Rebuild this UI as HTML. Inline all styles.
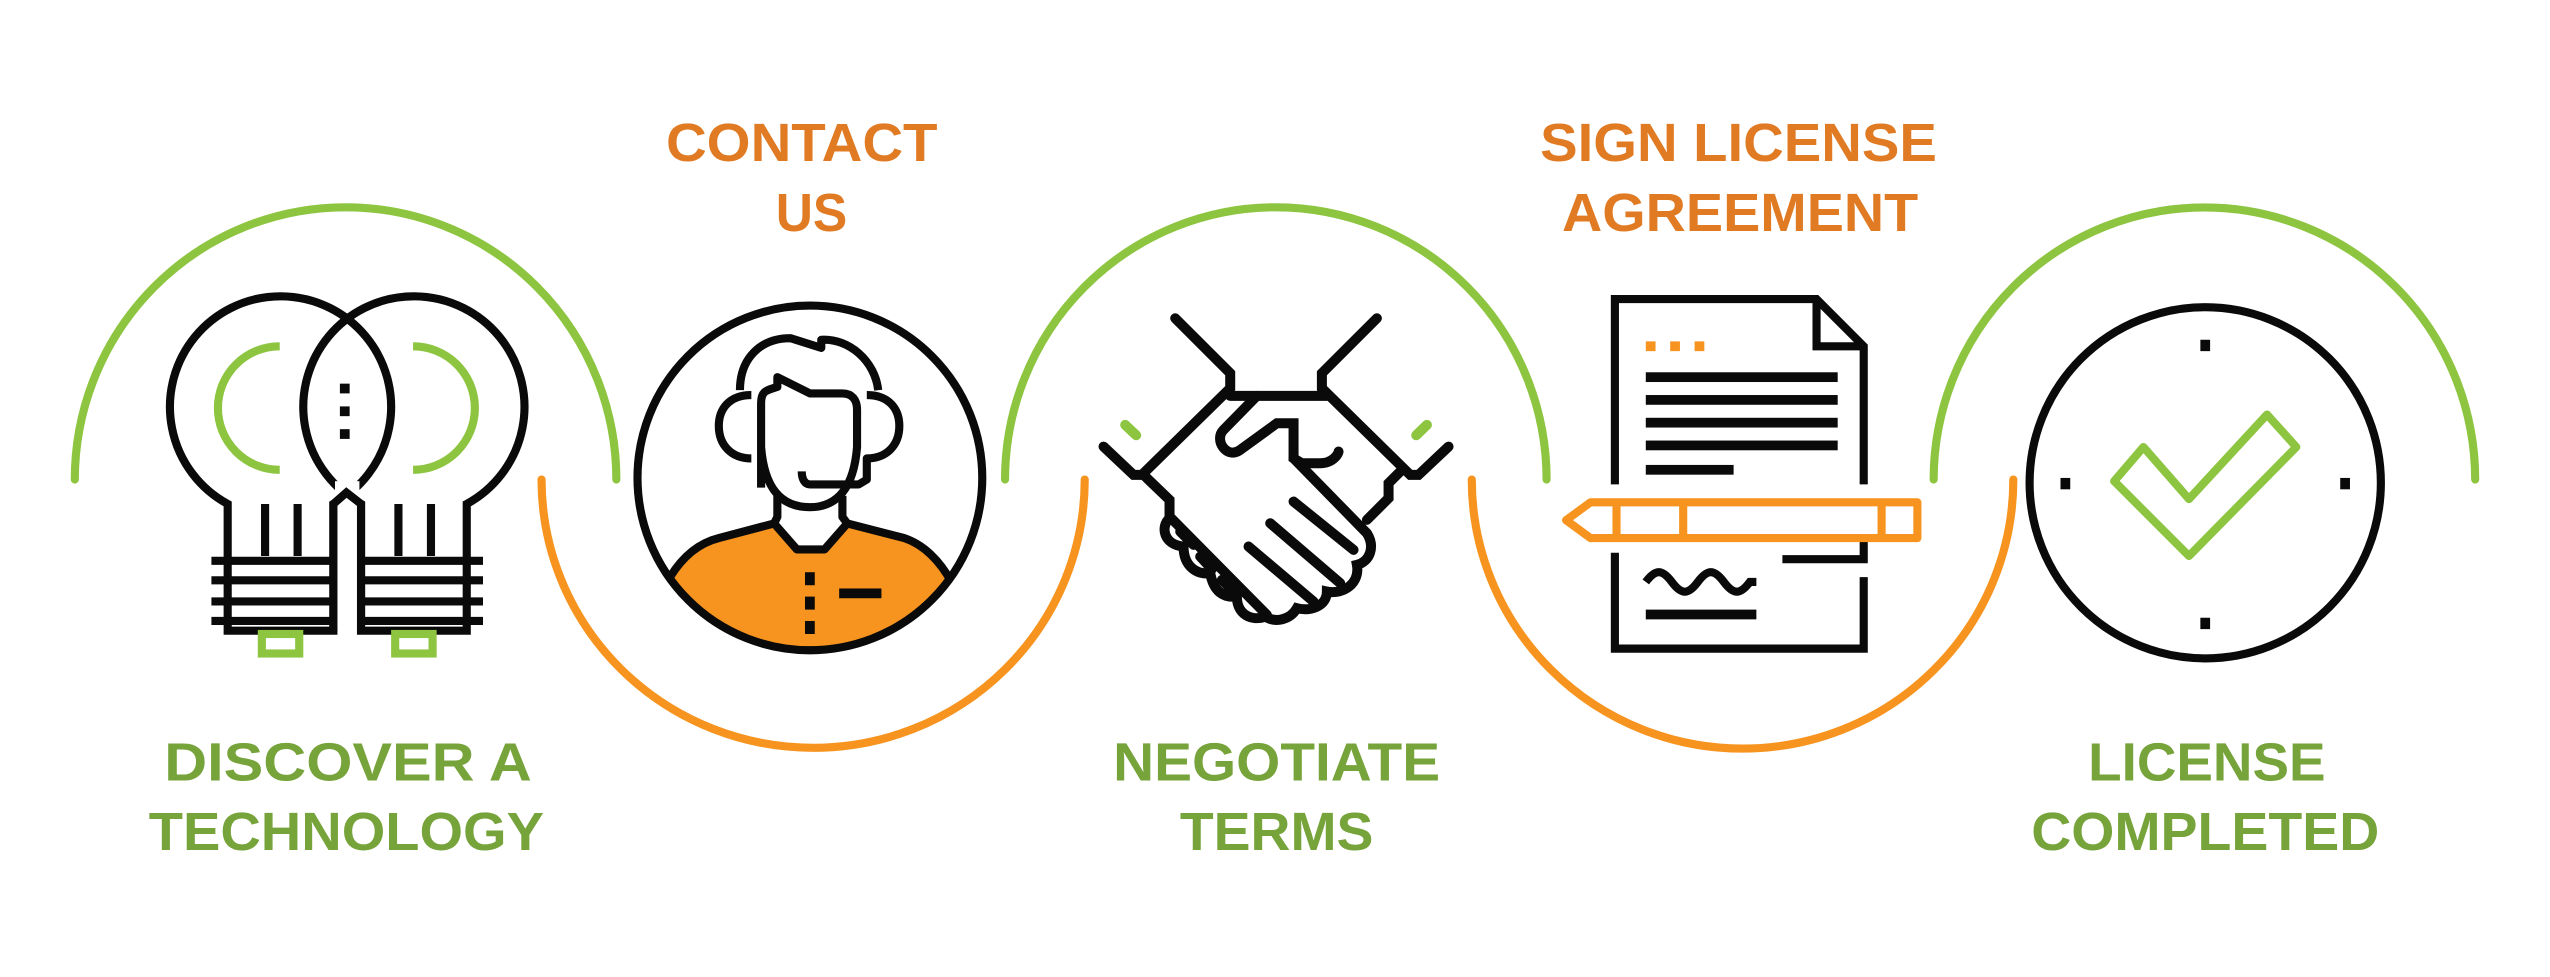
<!DOCTYPE html>
<html><head><meta charset="utf-8"><style>
html,body{margin:0;padding:0;background:#fff;}
svg{display:block;}
text{font-family:"Liberation Sans",sans-serif;font-weight:bold;font-size:33px;}
</style></head><body>
<svg width="2550" height="977" viewBox="0 0 1568 601" preserveAspectRatio="none" xmlns="http://www.w3.org/2000/svg">
<defs><clipPath id="pc"><circle cx="498" cy="294" r="106"/></clipPath></defs>
<g fill="none" stroke-width="5" stroke-linecap="round">
<path d="M46,295 A166,167 0 0 1 379,295" stroke="#8dc540"/>
<path d="M333,295 A167,165 0 0 0 667,295" stroke="#f7941f"/>
<path d="M618,295 A166,167 0 0 1 951,295" stroke="#8dc540"/>
<path d="M905,295 A166,165 0 0 0 1238,295" stroke="#f7941f"/>
<path d="M1189,295 A166,167 0 0 1 1522,295" stroke="#8dc540"/>
</g>
<g fill="#e07b24">
<text x="493" y="99" text-anchor="middle" textLength="167" lengthAdjust="spacingAndGlyphs">CONTACT</text>
<text x="499" y="142" text-anchor="middle" textLength="44" lengthAdjust="spacingAndGlyphs">US</text>
<text x="1069" y="99" text-anchor="middle" textLength="244" lengthAdjust="spacingAndGlyphs">SIGN LICENSE</text>
<text x="1070" y="142" text-anchor="middle" textLength="219" lengthAdjust="spacingAndGlyphs">AGREEMENT</text>
</g>
<g fill="#76a33a">
<text x="214" y="480" text-anchor="middle" textLength="226" lengthAdjust="spacingAndGlyphs">DISCOVER A</text>
<text x="213" y="523" text-anchor="middle" textLength="243" lengthAdjust="spacingAndGlyphs">TECHNOLOGY</text>
<text x="785" y="480" text-anchor="middle" textLength="201" lengthAdjust="spacingAndGlyphs">NEGOTIATE</text>
<text x="785" y="523" text-anchor="middle" textLength="119" lengthAdjust="spacingAndGlyphs">TERMS</text>
<text x="1357" y="480" text-anchor="middle" textLength="146" lengthAdjust="spacingAndGlyphs">LICENSE</text>
<text x="1356" y="523" text-anchor="middle" textLength="214" lengthAdjust="spacingAndGlyphs">COMPLETED</text>
</g>
<!-- bulbs -->
<g fill="none" stroke="#0a0a0a" stroke-width="5">
<path d="M140,388 L140,310 A68,68 0 1 1 205,310 L205,388 Z"/>
<path d="M222,388 L222,310 A68,68 0 1 1 287,310 L287,388 Z"/>
<path d="M163,310 L163,342 M183,310 L183,342 M245,310 L245,342 M265,310 L265,342"/>
<path d="M130,345 L205,345 M130,357 L205,357 M130,370 L205,370 M130,382 L205,382"/>
<path d="M222,345 L297,345 M222,357 L297,357 M222,370 L297,370 M222,382 L297,382"/>
</g>
<g fill="#fff" stroke="none"><rect x="206" y="296" width="15" height="90"/></g>
<path d="M205,388 L205,310 L213,303 L222,310 L222,388" fill="none" stroke="#0a0a0a" stroke-width="5"/>
<g fill="#0a0a0a"><rect x="209" y="236" width="6" height="6"/><rect x="209" y="250" width="6" height="6"/><rect x="209" y="264" width="6" height="6"/></g>
<g fill="none" stroke="#8dc540" stroke-width="5">
<path d="M172,213 A38,38 0 0 0 172,289"/>
<path d="M254,213 A38,38 0 0 1 254,289"/>
<rect x="161" y="390" width="23" height="12"/>
<rect x="243" y="390" width="23" height="12"/>
</g>
<!-- person -->
<path clip-path="url(#pc)" d="M388,410 L412,355 C420,342 430,334 442,331 L476,322 L490,338 L507,338 L521,322 L556,331 C568,335 578,345 585,358 L612,410 Z" fill="#f7941f" stroke="#0a0a0a" stroke-width="5" stroke-linejoin="round"/>
<circle cx="498" cy="294" r="106" fill="none" stroke="#0a0a0a" stroke-width="5"/>
<g fill="none" stroke="#0a0a0a" stroke-width="5" stroke-linejoin="round">
<path d="M468,300 L468,248 C468,240 472,240 478,238 L478,232 L498,242 L518,242 C524,242 527,246 527,252 L527,275 C525,300 515,312 498,312 C480,312 470,300 468,275"/>
<path d="M478,305 L478,318 L476,322 M518,305 L518,318 L521,322"/>
<path d="M455,240 C455,220 468,208 486,208 L505,214 L505,209 C522,208 538,222 540,240"/>
<path d="M462,243 C448,243 442,252 442,262 C442,274 450,282 462,282"/>
<path d="M533,243 C547,243 553,252 553,262 C553,274 545,282 533,282 L533,295 L528,298 L498,298 C495,298 493,295 493,290"/>
</g>
<g fill="#0a0a0a"><rect x="495" y="352" width="6" height="8"/><rect x="495" y="367" width="6" height="8"/><rect x="495" y="382" width="6" height="8"/><rect x="516" y="362" width="26" height="6"/></g>
<!-- handshake -->
<g transform="scale(0.61500615) translate(1080,290) scale(0.33333)" fill="none" stroke="#0a0a0a" stroke-width="30" stroke-linecap="round" stroke-linejoin="miter">
<path d="M70,470 L160,555 L185,555 L450,295 L450,250 L285,85"/>
<path d="M1105,470 L1015,555 L990,555 L725,295 L725,250 L890,85"/>
<path d="M450,318 L740,318"/>
<path d="M190,555 L268,630 L268,680 L560,975"/>
<path d="M268,685 C240,710 250,765 310,770 C310,830 350,855 390,850 C400,905 430,925 470,920 C470,975 515,995 555,980 C585,1000 630,990 650,955 C690,965 740,950 740,905 C790,915 840,880 830,825 C870,815 885,770 860,730 L640,505"/>
<path d="M960,545 L925,580 L925,625 L860,690"/>
<path d="M640,635 L820,780 M570,700 L780,880 M505,770 L700,935"/>
<path d="M300,725 L340,765 M360,800 L395,838 M425,870 L460,905"/>
<path d="M530,318 L430,420 C400,450 440,510 480,480 L590,400 L640,400 L640,505 L665,520 L720,520 C760,520 775,490 775,485"/>
</g>
<g transform="scale(0.61500615) translate(1080,290) scale(0.33333)" stroke="#8dc540" stroke-width="30" stroke-linecap="round">
<path d="M135,405 L168,436 M1040,405 L1008,436"/>
</g>
<!-- document -->
<g fill="none" stroke="#0a0a0a" stroke-width="5">
<path d="M993,298 L993,184 L1117,184 L1146,213 L1146,298"/>
<path d="M1117,184 L1117,213 L1146,213"/>
<path d="M993,340 L993,399 L1146,399 L1146,355"/>
<path d="M1146,330 L1146,344 L1096,344"/>
<path d="M1012,358 C1018,350 1022,350 1028,358 C1034,366 1038,366 1044,358 C1050,350 1054,350 1060,358 C1066,366 1070,366 1076,358 L1080,358"/>
</g>
<g fill="#0a0a0a">
<rect x="1012" y="229" width="118" height="6"/><rect x="1012" y="243" width="118" height="6"/><rect x="1012" y="257" width="118" height="6"/><rect x="1012" y="271" width="118" height="6"/><rect x="1012" y="286" width="54" height="6"/><rect x="1012" y="375" width="68" height="6"/>
</g>
<g fill="#f7941f"><rect x="1012" y="210" width="6" height="6"/><rect x="1027" y="210" width="6" height="6"/><rect x="1042" y="210" width="6" height="6"/></g>
<g fill="none" stroke="#f7941f" stroke-width="5" stroke-linejoin="round">
<path d="M963,320 L978,309 L1179,309 L1179,331 L978,331 Z"/>
<path d="M994,309 L994,331 M1035,309 L1035,331 M1157,309 L1157,331"/>
</g>
<!-- clock -->
<circle cx="1356" cy="297" r="108" fill="none" stroke="#0a0a0a" stroke-width="5"/>
<g fill="#0a0a0a"><rect x="1353" y="209" width="6" height="7"/><rect x="1353" y="380" width="6" height="7"/><rect x="1267" y="294" width="6" height="7"/><rect x="1439" y="294" width="6" height="7"/></g>
<path d="M1300,296 L1318,275 L1346,307 L1394,255 L1412,275 L1346,342 Z" fill="none" stroke="#8dc540" stroke-width="5" stroke-linejoin="round"/>
</svg>
</body></html>
